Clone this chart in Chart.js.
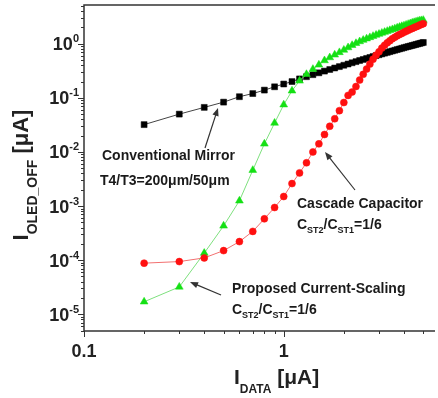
<!DOCTYPE html>
<html>
<head>
<meta charset="utf-8">
<script src="https://cdn.jsdelivr.net/npm/chart.js@4.4.1/dist/chart.umd.min.js"></script>
<style>
  html, body { margin: 0; padding: 0; background: #fff; overflow: hidden; }
</style>
</head>
<body>
<canvas id="c" width="438" height="398"></canvas>
<script>
// I_DATA values (uA)
const iData = [0.2,0.3,0.4,0.5,0.6,0.7,0.8,0.9,1.0,1.1,1.2,1.3,1.4,1.5,1.6,1.7,1.8,1.9,2.0,
  2.1,2.2,2.3,2.4,2.5,2.6,2.7,2.8,2.9,3.0,3.1,3.2,3.3,3.4,3.5,3.6,3.7,3.8,3.9,4.0,
  4.1,4.2,4.3,4.4,4.5,4.6,4.7,4.8,4.9,5.0];

// I_OLED_OFF (uA) for each circuit
const mirror = [0.032,0.050,0.0666,0.0833,0.105,0.12,0.139,0.16,0.18,0.2,0.224,0.246,0.268,0.29,0.312,0.334,0.356,0.378,0.40,
  0.422,0.445,0.467,0.49,0.512,0.535,0.557,0.58,0.603,0.626,0.648,0.67,0.692,0.714,0.736,0.758,0.78,0.802,0.824,0.846,
  0.867,0.888,0.909,0.93,0.951,0.972,0.993,1.014,1.035,1.056];
const cascade = [8.8e-5,9.4e-5,1.1e-4,1.5e-4,2.2e-4,3.4e-4,5.8e-4,9.4e-4,1.5e-3,2.6e-3,4.1e-3,6.3e-3,0.010,0.0141,0.021,0.0298,0.041,0.058,0.082,
  0.111,0.128,0.162,0.213,0.272,0.34,0.42,0.519,0.615,0.71,0.83,0.94,1.04,1.14,1.24,1.32,1.40,1.48,1.55,1.63,
  1.70,1.77,1.85,1.92,1.99,2.06,2.13,2.21,2.28,2.35];
const proposed = [1.7e-5,3.2e-5,1.35e-4,4.3e-4,1.25e-3,4.6e-3,0.0141,0.0343,0.0747,0.135,0.206,0.273,0.339,0.407,0.49,0.556,0.624,0.692,0.766,
  0.851,0.938,1.02,1.10,1.17,1.24,1.31,1.38,1.45,1.51,1.58,1.64,1.71,1.77,1.84,1.90,1.97,2.03,2.10,2.16,
  2.23,2.30,2.36,2.43,2.49,2.55,2.61,2.67,2.70,2.73];

const yTickExps = [0,-1,-2,-3,-4,-5];
const xTickLabels = [['0.1',0.1],['1',1]];

const FONT = '"Liberation Sans", Arial, sans-serif';

function pts(ys){ return iData.map((x,i)=>({x:x, y:ys[i]})); }

function arrow(ctx, x1, y1, x2, y2){
  const ang = Math.atan2(y2-y1, x2-x1), L = 8, W = 3.2;
  ctx.beginPath(); ctx.moveTo(x1,y1); ctx.lineTo(x2-Math.cos(ang)*L*0.7, y2-Math.sin(ang)*L*0.7); ctx.stroke();
  ctx.beginPath();
  ctx.moveTo(x2,y2);
  ctx.lineTo(x2-Math.cos(ang)*L-Math.sin(ang)*W, y2-Math.sin(ang)*L+Math.cos(ang)*W);
  ctx.lineTo(x2-Math.cos(ang)*L+Math.sin(ang)*W, y2-Math.sin(ang)*L-Math.cos(ang)*W);
  ctx.closePath(); ctx.fill();
}

// text runs: [text, size, baseline shift]
function runs(ctx, parts, x, y){
  let cx = x;
  parts.forEach(p=>{
    ctx.font = 'bold '+p[1]+'px '+FONT;
    ctx.fillText(p[0], cx, y + (p[2]||0));
    cx += ctx.measureText(p[0]).width;
  });
  return cx - x;
}
function runsWidth(ctx, parts){
  let w = 0;
  parts.forEach(p=>{ ctx.font = 'bold '+p[1]+'px '+FONT; w += ctx.measureText(p[0]).width; });
  return w;
}

const frame = {
  id: 'frame',
  afterDraw(chart){
    const ctx = chart.ctx, a = chart.chartArea, xs = chart.scales.x, ys = chart.scales.y;
    ctx.save();
    ctx.strokeStyle = '#333'; ctx.fillStyle = '#222'; ctx.lineWidth = 1.5;
    ctx.beginPath();
    ctx.moveTo(a.right+2, a.top); ctx.lineTo(a.left, a.top); ctx.lineTo(a.left, a.bottom); ctx.lineTo(a.right+2, a.bottom);
    ctx.stroke();

    // y ticks
    ctx.lineWidth = 1;
    ctx.beginPath();
    for (let e = -6; e <= 0; e++) for (let m = 1; m <= 9; m++) {
      const v = m * Math.pow(10, e);
      if (v < ys.min || v > ys.max) continue;
      const py = Math.round(ys.getPixelForValue(v)) + 0.5;
      const len = m === 1 ? 6 : 3;
      ctx.moveTo(a.left - len, py); ctx.lineTo(a.left, py);
    }
    // x ticks
    for (let e = -1; e <= 0; e++) for (let m = 1; m <= 9; m++) {
      const v = m * Math.pow(10, e);
      if (v < xs.min || v > xs.max) continue;
      const px = Math.round(xs.getPixelForValue(v)) + 0.5;
      const len = m === 1 ? 6 : 3;
      ctx.moveTo(px, a.bottom); ctx.lineTo(px, a.bottom + len);
    }
    ctx.stroke();

    // y tick labels 10^n
    ctx.textBaseline = 'alphabetic'; ctx.textAlign = 'left';
    yTickExps.forEach(e=>{
      const py = ys.getPixelForValue(Math.pow(10, e));
      const parts = [['10',18,0],[String(e),11,-8]];
      const w = runsWidth(ctx, parts);
      runs(ctx, parts, 79 - w, py + 6.5);
    });
    // x tick labels
    ctx.textAlign = 'center';
    ctx.font = 'bold 18px ' + FONT;
    xTickLabels.forEach(t=>{
      ctx.fillText(t[0], xs.getPixelForValue(t[1]), 357);
    });

    // axis titles
    ctx.textAlign = 'left';
    runs(ctx, [['I',21,0],['DATA',12,9],[' [\u03bcA]',21,0]], 234, 384);
    const yParts = [['I',22,0],['OLED_OFF',14,9],[' [\u03bcA]',22,0]];
    const yw = runsWidth(ctx, yParts);
    ctx.save();
    ctx.translate(28, 175 + yw/2);
    ctx.rotate(-Math.PI/2);
    runs(ctx, yParts, 0, 0);
    ctx.restore();

    // annotations
    ctx.fillStyle = '#1a1a1a';
    runs(ctx, [['Conventional Mirror',14,0]], 102, 160);
    runs(ctx, [['T4/T3=200\u03bcm/50\u03bcm',14,0]], 100, 185);
    runs(ctx, [['Cascade Capacitor',14,0]], 297, 208);
    runs(ctx, [['C',14,0],['ST2',9,4],['/C',14,0],['ST1',9,4],['=1/6',14,0]], 297, 229);
    runs(ctx, [['Proposed Current-Scaling',14,0]], 232, 293);
    runs(ctx, [['C',14,0],['ST2',9,4],['/C',14,0],['ST1',9,4],['=1/6',14,0]], 232, 314);

    ctx.strokeStyle = '#333'; ctx.fillStyle = '#333'; ctx.lineWidth = 1.2;
    arrow(ctx, 205, 148, 218, 108);
    arrow(ctx, 355, 190, 325, 152);
    arrow(ctx, 221, 295, 190, 282);
    ctx.restore();
  }
};

new Chart(document.getElementById('c'), {
  type: 'line',
  data: {
    datasets: [
      { label: 'Cascade Capacitor', data: pts(cascade), borderColor: '#f27070', borderWidth: 1,
        pointStyle: 'circle', pointRadius: 3.5, pointBackgroundColor: '#ff1010', pointBorderColor: '#ff1010', pointBorderWidth: 0.5 },
      { label: 'Proposed Current-Scaling', data: pts(proposed), borderColor: '#7ee07e', borderWidth: 1,
        pointStyle: 'triangle', pointRadius: 4.5, pointBackgroundColor: '#14e014', pointBorderColor: '#14e014', pointBorderWidth: 0.5 },
      { label: 'Conventional Mirror', data: pts(mirror), borderColor: '#444', borderWidth: 1,
        pointStyle: 'rect', pointRadius: 4.2, pointBackgroundColor: '#000', pointBorderColor: '#000', pointBorderWidth: 0.5 }
    ]
  },
  options: {
    responsive: false,
    animation: false,
    events: [],
    layout: { padding: { left: 84, top: 3, right: 1, bottom: 67 } },
    plugins: { legend: { display: false }, tooltip: { enabled: false } },
    elements: { line: { tension: 0 } },
    scales: {
      x: { type: 'logarithmic', min: 0.1, max: 5.59, display: false },
      y: { type: 'logarithmic', min: 4.9e-6, max: 5.2, display: false }
    }
  },
  plugins: [frame]
});
</script>
</body>
</html>
